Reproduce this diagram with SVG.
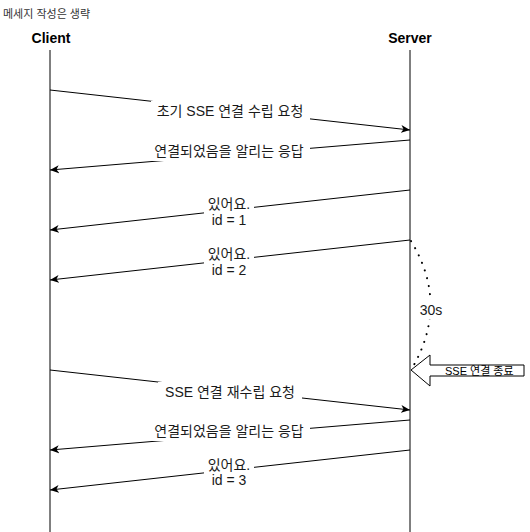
<svg xmlns="http://www.w3.org/2000/svg" width="530" height="532" viewBox="0 0 530 532">
<style>
.ll{stroke:#000;stroke-width:1;fill:none}
.msg{stroke:#000;stroke-width:1;fill:none;marker-end:url(#ah)}
.lbl{font-family:"Liberation Sans","Noto Sans CJK KR",sans-serif;font-size:14px;fill:#1a1a1a;text-anchor:middle}
.hd{font-family:"Liberation Sans","Noto Sans CJK KR",sans-serif;font-size:14px;font-weight:bold;fill:#000;text-anchor:middle}
.sm{font-family:"Liberation Sans","Noto Sans CJK KR",sans-serif;font-size:11px;fill:#333}
.bg{fill:#fff}
</style>
<defs>
<marker id="ah" markerWidth="10" markerHeight="10" viewBox="0 0 10 10" refX="9" refY="5" orient="auto" markerUnits="userSpaceOnUse">
<path d="M0,1 L9,5 L0,9 L2.5,5 Z" fill="#000"/>
</marker>
</defs>
<rect width="530" height="532" fill="#fff"/>
<text class="sm" x="3" y="18">메세지 작성은 생략</text>
<g id="client"><text class="hd" x="51" y="43">Client</text><line class="ll" x1="50" y1="50" x2="50" y2="532"/></g>
<g id="server"><text class="hd" x="410" y="43">Server</text><line class="ll" x1="410" y1="50" x2="410" y2="532"/></g>
<g id="connectors">
<line class="msg" x1="50" y1="90" x2="410" y2="130"/>
<line class="msg" x1="410" y1="140" x2="50" y2="170"/>
<line class="msg" x1="410" y1="190" x2="50" y2="230"/>
<line class="msg" x1="410" y1="240" x2="50" y2="280"/>
<line class="msg" x1="50" y1="370" x2="410" y2="410"/>
<line class="msg" x1="410" y1="420" x2="50" y2="450"/>
<line class="msg" x1="410" y1="450" x2="50" y2="490"/>
<path d="M411,241 Q450,305 411,370" fill="none" stroke="#000" stroke-width="2" stroke-dasharray="0.1 8" stroke-linecap="round"/>
</g>
<g id="labels">
<rect class="bg" x="151" y="101" width="159" height="20"/><text class="lbl" x="230" y="116">초기 SSE 연결 수립 요청</text>
<rect class="bg" x="148" y="141" width="162" height="20"/><text class="lbl" x="229" y="156">연결되었음을 알리는 응답</text>
<rect class="bg" x="204" y="194" width="50" height="34"/><text class="lbl" x="229" y="209">있어요.</text><text class="lbl" x="229" y="225">id = 1</text>
<rect class="bg" x="204" y="244" width="50" height="34"/><text class="lbl" x="229" y="259">있어요.</text><text class="lbl" x="229" y="275">id = 2</text>
<rect class="bg" x="417" y="300" width="29" height="19"/><text class="lbl" x="431" y="315">30s</text>
<rect class="bg" x="158" y="382" width="144" height="20"/><text class="lbl" x="230" y="397">SSE 연결 재수립 요청</text>
<rect class="bg" x="148" y="421" width="162" height="20"/><text class="lbl" x="229" y="436">연결되었음을 알리는 응답</text>
<rect class="bg" x="204" y="455" width="50" height="34"/><text class="lbl" x="229" y="470">있어요.</text><text class="lbl" x="229" y="485">id = 3</text>
</g>
<g id="close">
<path d="M411,370 L430,355 L430,365 L524,365 L524,376 L430,376 L430,386 Z" fill="#fff" stroke="#000" stroke-width="1"/>
<text class="sm" x="445" y="374.5" style="fill:#000">SSE 연결 종료</text>
</g>
</svg>
